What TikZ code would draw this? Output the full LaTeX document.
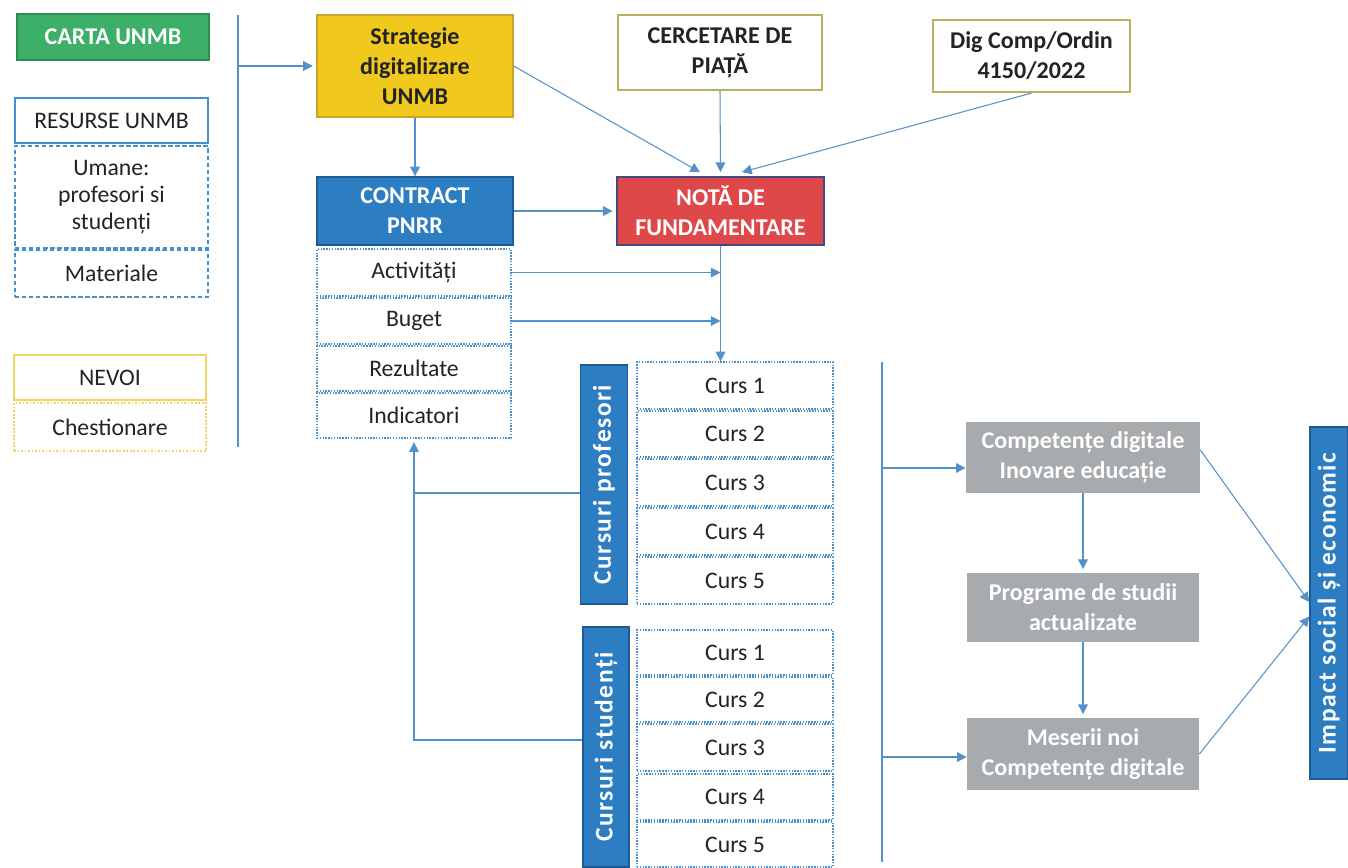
\documentclass[tikz,border=0pt]{standalone}
\usepackage{fontspec}
\setmainfont{Carlito}
\usetikzlibrary{arrows.meta}

\definecolor{ln}{RGB}{85,145,200}
\definecolor{bord}{RGB}{70,145,205}
\definecolor{grn}{RGB}{60,175,105}
\definecolor{grnd}{RGB}{45,140,80}
\definecolor{ylw}{RGB}{240,200,30}
\definecolor{ylwd}{RGB}{200,165,40}
\definecolor{ylwl}{RGB}{240,212,100}
\definecolor{olv}{RGB}{185,175,95}
\definecolor{blu}{RGB}{45,125,195}
\definecolor{blud}{RGB}{30,90,150}
\definecolor{rd}{RGB}{222,72,72}
\definecolor{rdd}{RGB}{70,70,130}
\definecolor{gry}{RGB}{168,171,174}
\definecolor{txt}{RGB}{35,35,35}

\begin{document}
\begin{tikzpicture}[x=0.02cm,y=-0.02cm,
	every node/.style={font=\fontsize{13.5}{15.5}\selectfont,align=center,inner sep=0pt,text=txt},
	sz/.style 2 args={minimum width=#1*0.02cm,minimum height=#2*0.02cm},
	bf/.style={font=\fontsize{13.7}{17}\selectfont\bfseries},
	grnbox/.style={bf,draw=grnd,fill=grn,text=white,line width=0.8pt},
	resbox/.style={draw=bord,line width=0.7pt},
	dashbox/.style={draw=bord,line width=0.7pt,dash pattern=on 2.5pt off 1.5pt},
	nevbox/.style={draw=ylwl,line width=0.8pt},
	chestbox/.style={draw=ylwl,line width=0.7pt,dash pattern=on 1pt off 1pt},
	stratbox/.style={bf,draw=ylwd,fill=ylw,line width=0.8pt},
	olvbox/.style={bf,draw=olv,line width=1.2pt},
	blubox/.style={bf,draw=blud,fill=blu,text=white,line width=0.8pt},
	notabox/.style={bf,draw=rdd,fill=rd,text=white,line width=1pt},
	dotbox/.style={draw=bord,line width=0.7pt,dash pattern=on 0.8pt off 0.8pt},
	bar/.style={font=\fontsize{14.5}{17}\selectfont\bfseries\addfontfeature{LetterSpace=6},draw=blud,fill=blu,text=white,line width=0.8pt},
	grybox/.style={bf,fill=gry,text=white},
	ln/.style={draw=ln,line width=0.6pt},
	ar/.style={ln,-{Triangle[length=5.5pt,width=5.5pt]}}]
	\fill[white] (0,0) rectangle (1348,867);
	\useasboundingbox (0,0) rectangle (1348,867);

	\node[grnbox,sz={192}{46}] (carta) at (113,37) {CARTA UNMB};
	\node[resbox,sz={193}{45}] (res) at (111.5,120.5) {RESURSE UNMB};
	\node[dashbox,sz={193}{102}] (um) at (111.5,197) {Umane:\\profesori si\\studenți};
	\node[dashbox,sz={193}{47}] (mat) at (111.5,273.5) {Materiale};
	\node[nevbox,sz={192}{45}] (nev) at (110,377.5) {NEVOI};
	\node[chestbox,sz={192}{48}] (chest) at (110,427) {Chestionare};

	\node[stratbox,sz={196}{102}] (strat) at (415,66) {Strategie\\digitalizare\\UNMB};
	\node[olvbox,sz={204}{75}] (cerc) at (720,52.5) {CERCETARE DE\\PIAȚĂ};
	\node[olvbox,sz={197}{72}] (dig) at (1031.5,56) {Dig Comp/Ordin\\4150/2022};
	\node[blubox,sz={196}{68}] (contr) at (415,211) {CONTRACT\\PNRR};
	\node[notabox,sz={207}{68}] (nota) at (720.5,211) {NOTĂ DE\\FUNDAMENTARE};

	\node[dotbox,sz={194}{47}] (act) at (414,272.5) {Activități};
	\node[dotbox,sz={194}{46}] (bug) at (414,321) {Buget};
	\node[dotbox,sz={194}{45}] (rez) at (414,368.5) {Rezultate};
	\node[dotbox,sz={194}{45}] (ind) at (414,415.5) {Indicatori};

	\node[bar,sz={47}{239}] (cp) at (604,484.5) {\rotatebox{90}{Cursuri profesori}};
	\node[dotbox,sz={196}{47}] (p1) at (735,385.5) {Curs 1};
	\node[dotbox,sz={196}{46}] (p2) at (735,434) {Curs 2};
	\node[dotbox,sz={196}{47}] (p3) at (735,482.5) {Curs 3};
	\node[dotbox,sz={196}{47}] (p4) at (735,531.5) {Curs 4};
	\node[dotbox,sz={196}{47}] (p5) at (735,580.5) {Curs 5};

	\node[bar,sz={46}{240}] (cs) at (606,747) {\rotatebox{90}{Cursuri studenți}};
	\node[dotbox,sz={196}{45}] (s1) at (735,652.5) {Curs 1};
	\node[dotbox,sz={196}{45}] (s2) at (735,699.5) {Curs 2};
	\node[dotbox,sz={196}{47}] (s3) at (735,747.5) {Curs 3};
	\node[dotbox,sz={196}{46}] (s4) at (735,797) {Curs 4};
	\node[dotbox,sz={196}{45}] (s5) at (735,844.5) {Curs 5};

	\node[grybox,sz={234}{71}] (comp) at (1083,457.5) {Competențe digitale\\Inovare educație};
	\node[grybox,sz={232}{69}] (prog) at (1083,607.5) {Programe de studii\\actualizate};
	\node[grybox,sz={232}{72}] (mes) at (1083,754) {Meserii noi\\Competențe digitale};
	\node[bar,sz={38}{352}] (imp) at (1329,603) {\rotatebox{90}{Impact social și economic}};

	\coordinate (l1) at (238,15);
	\coordinate (l2) at (238,447);
	\coordinate (l0) at (238,66);
	\coordinate (r1) at (882,362);
	\coordinate (r2) at (882,862);
	\coordinate (ra) at (882,468);
	\coordinate (rb) at (882,757);

	\draw[ln] (l1) -- (l2);
	\draw[ar,shorten >=2pt] (l0) -- (strat.west);
	\draw[ar] (strat) -- (contr);
	\draw[ar] (strat.east) -- ([xshift=-0.41cm,yshift=0.08cm]nota.north);
	\draw[ar] (cerc.south) -- ([yshift=0.08cm]nota.north);
	\draw[ar] (dig.south) -- ([xshift=0.43cm,yshift=0.08cm]nota.north);
	\draw[ar,shorten >=2pt] (contr) -- (nota);
	\draw[ar] (act.east) -- (act.east -| nota.south);
	\draw[ar] (bug.east) -- (bug.east -| nota.south);
	\draw[ar] (nota.south) -- (nota.south |- p1.north);
	\draw[ln] ([yshift=-0.17cm]cp.west) -- ([yshift=-0.17cm]cp.west -| ind.south);
	\draw[ar,shorten >=2pt] ([yshift=0.14cm]cs.west) -| (ind.south);

	\draw[ln] (r1) -- (r2);
	\draw[ar] (ra) -- (ra -| comp.west);
	\draw[ar] (rb) -- (rb -| mes.west);
	\draw[ar,shorten >=2pt] (comp) -- (prog);
	\draw[ar,shorten >=2pt] (prog) -- (mes);
	\draw[ar] ([yshift=0.15cm]comp.east) -- ([yshift=0.02cm]imp.west);
	\draw[ar] (mes.east) -- ([yshift=-0.27cm]imp.west);
\end{tikzpicture}
\end{document}
